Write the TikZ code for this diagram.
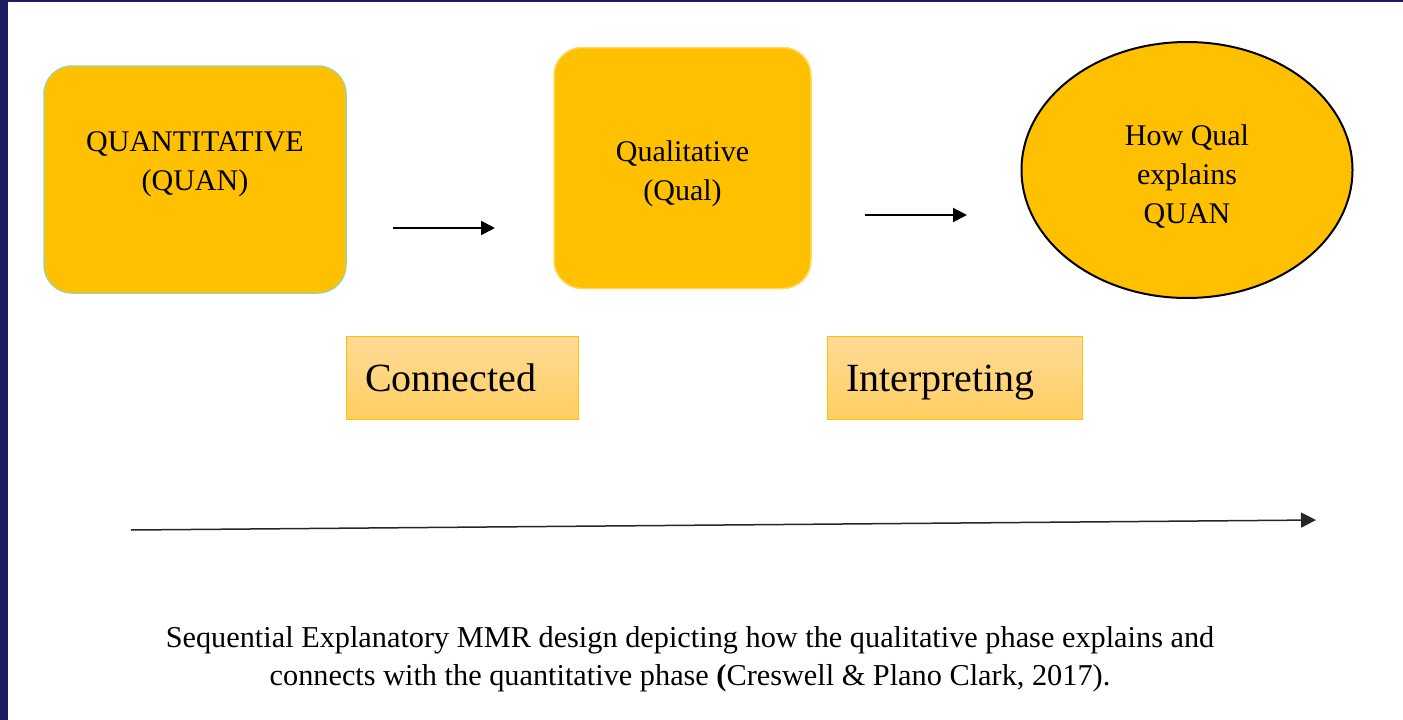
\documentclass[tikz,border=0pt]{standalone}
\usepackage{fontspec}
\setmainfont{Liberation Serif}
\usepackage{xcolor}
\usetikzlibrary{arrows.meta,shapes.geometric,positioning}

\definecolor{slidenavy}{RGB}{30,29,99}
\definecolor{phasefill}{RGB}{255,192,0}
\definecolor{quanedge}{RGB}{169,209,142}
\definecolor{qualedge}{RGB}{255,217,102}
\definecolor{tagtop}{RGB}{255,218,150}
\definecolor{tagbottom}{RGB}{255,207,98}
\definecolor{tagedge}{RGB}{255,192,0}

\begin{document}
\begin{tikzpicture}[
    x=1pt, y=-1pt,
    phase/.style={rectangle, rounded corners=28pt, fill=phasefill, line width=1.5pt},
    phasetext/.style={align=center, font=\fontsize{30}{39}\selectfont},
    tag/.style={rectangle, draw=tagedge, line width=1pt, top color=tagtop, bottom color=tagbottom,
        inner xsep=19pt, inner ysep=0pt, minimum height=83pt, align=left,
        text height=28pt, text depth=0pt, font=\fontsize{40}{48}\selectfont},
    arrow/.style={-{Triangle[length=14pt,width=14pt]}, line width=2pt}
]
    % slide frame
    \useasboundingbox (0,0) rectangle (1403,720);
    \fill[slidenavy] (0,0) rectangle (1403,720);
    \fill[white] (8,2) rectangle (1403,720);

    % phases
    \node[phase, draw=quanedge, minimum width=302pt, minimum height=227pt] (quan) at (195,179.5) {};
    \node[phasetext] (quantxt) at (195,164) {QUANTITATIVE\\(QUAN)};
    \node[phase, draw=qualedge, minimum width=257pt, minimum height=241pt] (qual) at (682.5,168) {};
    \node[phasetext] (qualtxt) at (682.5,174) {Qualitative\\(Qual)};
    \node[ellipse, draw=black, fill=phasefill, line width=2pt, minimum width=331pt, minimum height=256pt,
        inner sep=0pt] (explain) at (1187,170) {};
    \node[phasetext] (explaintxt) at (1187,177) {How Qual\\explains\\QUAN};

    % tags
    \node[tag, text width=194pt] (connected) at (462,377.5) {Connected};
    \node[tag, text width=217pt] (interp) at (954.5,377.5) {Interpreting};

    % arrows
    \coordinate (a1s) at (393,228);
    \coordinate (a1e) at (495,228);
    \coordinate (a2s) at (865,215);
    \coordinate (a2e) at (967,215);
    \draw[arrow] (a1s) -- (a1e);
    \draw[arrow] (a2s) -- (a2e);

    % time line
    \coordinate (t0) at (131,530);
    \coordinate (t1) at (1316,520);
    \draw[-{Triangle[length=15pt,width=15pt]}, line width=1.5pt, black!85] (t0) -- (t1);

    % caption
    \node[align=center, font=\fontsize{30.3}{38}\selectfont] (caption) at (690,659)
        {Sequential Explanatory MMR design depicting how the qualitative phase explains and\\
         connects with the quantitative phase \textbf{(}Creswell \& Plano Clark, 2017).};
\end{tikzpicture}
\end{document}
